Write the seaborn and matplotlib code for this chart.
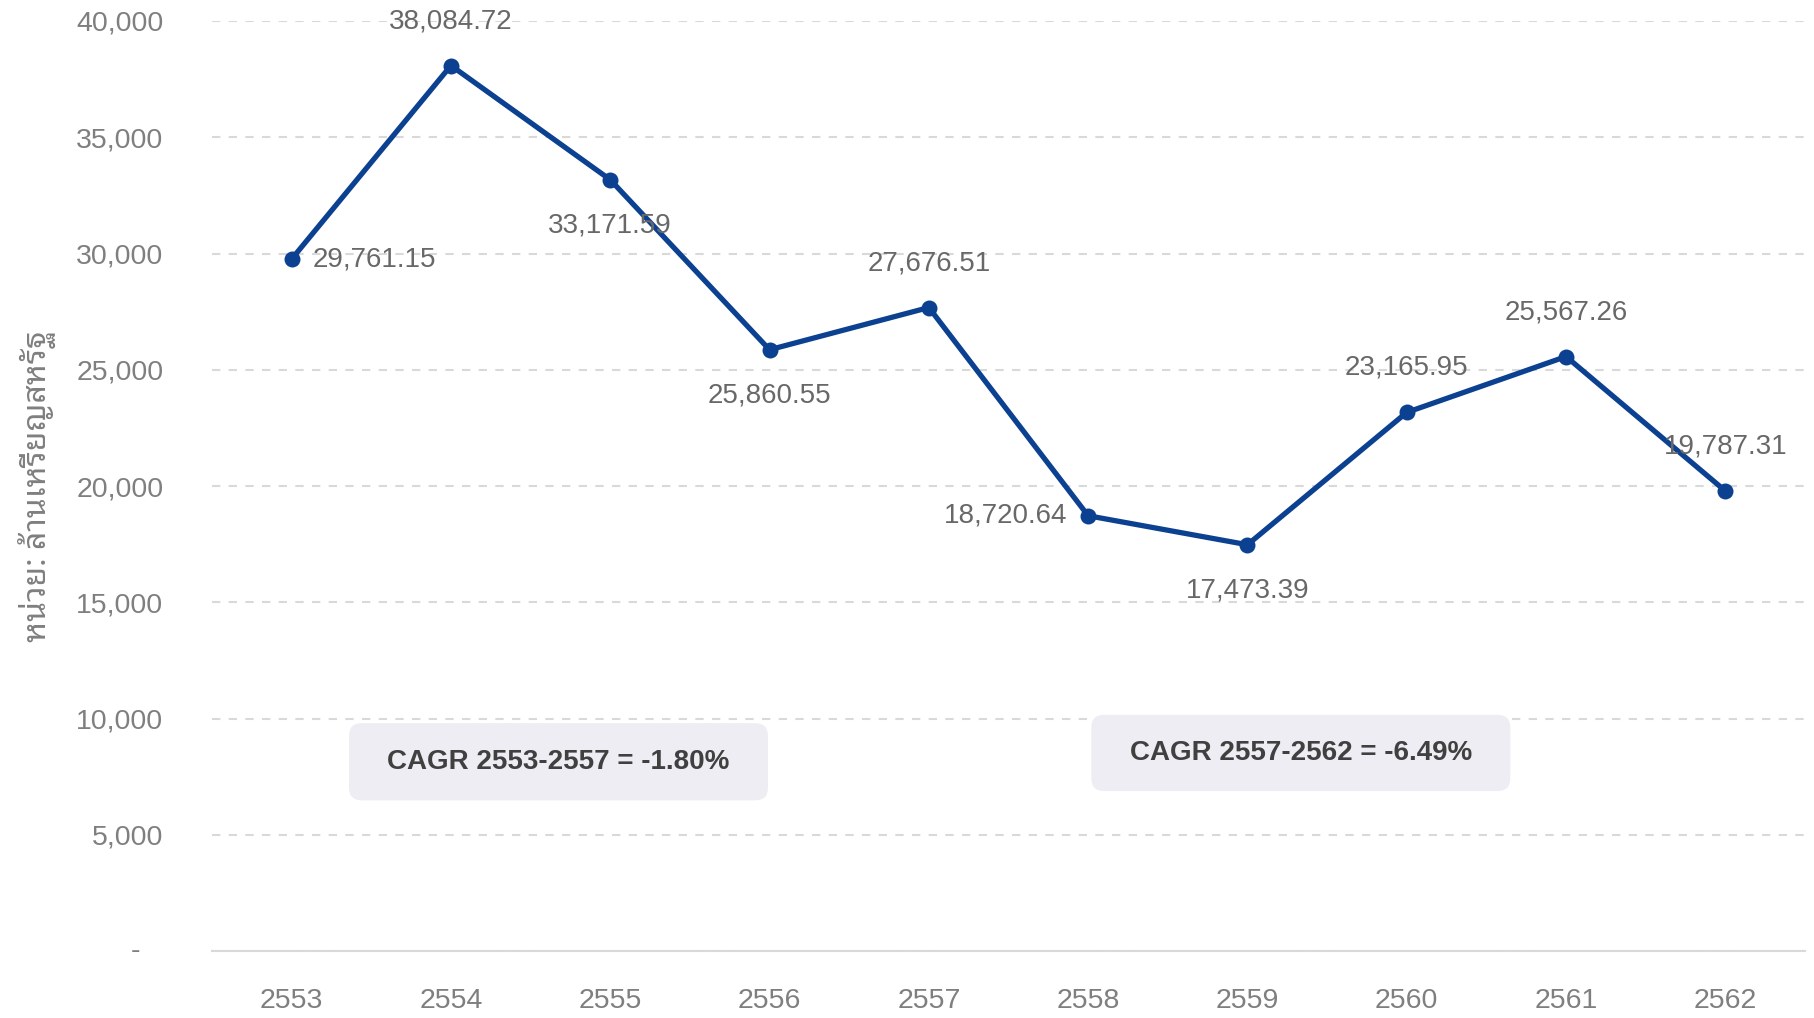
import matplotlib
matplotlib.use("Agg")
import matplotlib.pyplot as plt
from matplotlib.patches import FancyBboxPatch
from matplotlib.ticker import FixedLocator, FuncFormatter
import seaborn as sns
import pandas as pd

# Annual values (million USD), Thai Buddhist-era years
years = ["2553", "2554", "2555", "2556", "2557", "2558", "2559", "2560", "2561", "2562"]
values = [29761.15, 38084.72, 33171.59, 25860.55, 27676.51,
          18720.64, 17473.39, 23165.95, 25567.26, 19787.31]
label_side = ["right", "above", "below", "below", "above",
              "left", "below", "above", "above", "above"]
y_ticks = [0, 5000, 10000, 15000, 20000, 25000, 30000, 35000, 40000]
y_label = "หน่วย: ล้านเหรียญสหรัฐ"
cagr_notes = ["CAGR 2553-2557 = -1.80%", "CAGR 2557-2562 = -6.49%"]

LINE = "#0b4190"
TICK = "#7f7f7f"
VAL = "#686868"
GRID = "#d9d9d9"

sns.set_theme(style="white")
plt.rcParams["font.family"] = ["Liberation Sans", "Noto Sans Thai Looped", "DejaVu Sans"]

df = pd.DataFrame({"year": years, "value": values})

fig = plt.figure(figsize=(18.14, 10.18), dpi=100)
ax = fig.add_axes([212 / 1814, 1 - 951 / 1018, 1593 / 1814, 930 / 1018])

sns.lineplot(data=df, x="year", y="value", ax=ax, color=LINE, linewidth=3.8,
             marker="o", markersize=11.5, markeredgewidth=0, sort=False)

ax.set_xlim(-0.5, len(years) - 0.5)
ax.set_ylim(0, 40000)

# y axis ticks: thousands separators, dash for zero drawn separately
ax.yaxis.set_major_locator(FixedLocator(y_ticks))
ax.yaxis.set_major_formatter(FuncFormatter(lambda v, p: "" if v == 0 else f"{v:,.0f}"))
ax.annotate("-", xy=(0, 0), xycoords=ax.get_yaxis_transform(), xytext=(-52, 0),
            textcoords="offset points", ha="right", va="center", color=TICK, fontsize=20.5)
ax.tick_params(axis="y", length=0, pad=35, labelsize=20.5, labelcolor=TICK)
ax.tick_params(axis="x", length=0, pad=27, labelsize=20.5, labelcolor=TICK)

ax.yaxis.grid(True, color=GRID, linewidth=1.5, linestyle=(0, (4, 4)))
ax.xaxis.grid(False)
ax.set_axisbelow(True)
for s in ["top", "right", "left"]:
    ax.spines[s].set_visible(False)
ax.spines["bottom"].set_color(GRID)
ax.spines["bottom"].set_linewidth(1.5)

ax.set_xlabel("")
ax.set_ylabel(y_label, fontsize=23, color=TICK,
              fontfamily=["Noto Sans Thai Looped", "Liberation Sans"])
ax.yaxis.label.set_verticalalignment("center")
ax.yaxis.set_label_coords(-0.109, 0.5)

# value labels around each point
offsets = {"above": ((0, 32), "center"), "below": ((0, -33), "center"),
           "right": ((15, 0), "left"), "left": ((-15, 0), "right")}
for i, (v, side) in enumerate(zip(values, label_side)):
    off, ha = offsets[side]
    ax.annotate(f"{v:,.2f}", xy=(i, v), xytext=off, textcoords="offset points",
                ha=ha, va="center", fontsize=20, color=VAL)

# CAGR callout boxes (axes-fraction geometry)
aspect = 1593 / 930
boxes = [(0.086, 0.162, 0.263, 0.083), (0.552, 0.172, 0.263, 0.082)]
for (x0, y0, w, h), note in zip(boxes, cagr_notes):
    ax.add_patch(FancyBboxPatch((x0, y0), w, h, transform=ax.transAxes,
                                boxstyle="round,pad=0,rounding_size=0.008",
                                mutation_aspect=aspect, facecolor="#ededf3",
                                edgecolor="none", zorder=3))
    ax.text(x0 + w / 2, y0 + h / 2, note, transform=ax.transAxes, ha="center",
            va="center", fontsize=20, fontweight="bold", color="#404040", zorder=4)

fig.savefig("out.png", dpi=100)
